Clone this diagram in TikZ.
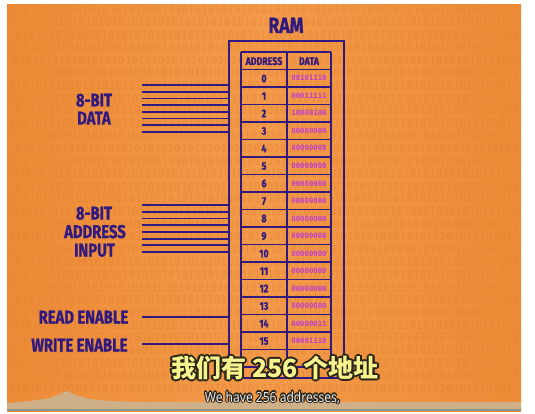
\documentclass[tikz,border=0pt]{standalone}
\usepackage{fontspec}
\newfontfamily\lbl[FakeStretch=0.8,BoldFeatures={FakeBold=1}]{Fira Sans}
\newfontfamily\monof{DejaVu Sans Mono}
\newfontfamily\cjk{Noto Sans CJK SC}
\newfontfamily\subf[FakeStretch=0.86]{Noto Sans}
\definecolor{ink}{RGB}{48,26,128}
\definecolor{mag}{RGB}{190,60,210}
\definecolor{orM}{RGB}{243,155,74}
\definecolor{orE}{RGB}{237,138,54}
\definecolor{patc}{RGB}{226,130,50}
\definecolor{beige}{RGB}{206,176,136}
\definecolor{strip}{RGB}{138,148,136}
\definecolor{subY}{RGB}{246,242,140}
\definecolor{subD}{RGB}{40,36,24}
\definecolor{subW}{RGB}{236,236,236}
\tikzset{
  lab/.style={font=\lbl\bfseries\fontsize{18.5}{18.5}\selectfont, text=ink, anchor=base, inner sep=0},
  ttl/.style={font=\lbl\bfseries\fontsize{22}{22}\selectfont, text=ink, anchor=base, inner sep=0},
  wire/.style={draw=ink, line width=1.8},
  tab/.style={draw=ink, line width=1.8},
  hdr/.style={font=\lbl\bfseries\fontsize{11}{11}\selectfont, text=ink, anchor=base, inner sep=0},
  dat/.style={font=\monof\bfseries\fontsize{7.3}{7.3}\selectfont, text=mag, anchor=base, inner sep=0},
  pat/.style={font=\monof\fontsize{11}{11}\selectfont, text=patc, anchor=base west, inner sep=0, opacity=0.55},
  cjks/.style={font=\cjk\bfseries\fontsize{25}{25}\selectfont, anchor=base, inner sep=0},
  ens/.style={font=\subf\fontsize{14}{14}\selectfont, anchor=base, inner sep=0}
}
\begin{document}
\begin{tikzpicture}[x=1pt,y=-1pt]
\useasboundingbox (0,0) rectangle (535,414);
\fill[white] (0,0) rectangle (535,414);
\shade[left color=orE, right color=orE, middle color=orM] (7,5) rectangle (521,411);
% faint binary texture
\foreach \r in {0,...,30} {
  \pgfmathsetmacro\xo{9+mod(\r,3)*3}
  \node[pat] (p\r) at (\xo, 14+12.6*\r) {0101010101010101010101010101010101010101010101010101010101010101010101010101};
}
% bottom strip
\fill[beige] (7,403) -- (30,401) -- (50,398) -- (62,393) -- (67,391) -- (75,395) -- (90,399) -- (110,401) -- (140,402) -- (521,402) -- (521,409) -- (7,409) -- cycle;
\fill[strip] (7,409) rectangle (521,411);
% RAM box
\node[ttl] (title) at (286,33) {RAM};
\node[draw=ink, line width=1.8, minimum width=115, minimum height=337, inner sep=0] (ram) at (286.5,209.5) {};
% table
\begin{scope}
\clip (230,42) rectangle (343,377);
\draw[tab] (241,52) -- (331,52);
\draw[tab] (241,52) -- (241,390);
\draw[tab] (331,52) -- (331,390);
\draw[tab] (287,52) -- (287,390);
\foreach \k in {0,...,17} {
  \draw[tab] (241,69.5+17.5*\k) -- (331,69.5+17.5*\k);
}
\end{scope}
\node[hdr] (hA) at (264,65) {ADDRESS};
\node[hdr] (hD) at (309,65) {DATA};
\foreach \k/\v in {0/00101110,1/00011111,2/10000100,3/00000000,4/00000000,5/00000000,6/00000000,7/00000000,8/00000000,9/00000000,10/00000000,11/00000000,12/00000000,13/00000000,14/00000011,15/00001110} {
  \node[hdr] (a\k) at (264,82.25+17.5*\k) {\k};
  \node[dat] (v\k) at (309,81+17.5*\k) {\v};
}
% wires
\foreach \i in {0,...,7} {
  \coordinate (d\i) at (142,85+6.72*\i);
  \draw[wire] (d\i) -- (d\i -| ram.west);
  \coordinate (ad\i) at (142,205+6.72*\i);
  \draw[wire] (ad\i) -- (ad\i -| ram.west);
}
\coordinate (re) at (142,317);
\coordinate (we) at (142,344);
\draw[wire] (re) -- (re -| ram.west);
\draw[wire] (we) -- (we -| ram.west);
% labels
\node[lab] (l1) at (94,106.5) {8-BIT};
\node[lab] (l2) at (94,124.5) {DATA};
\node[lab] (l3) at (94,219.5) {8-BIT};
\node[lab] (l4) at (95,238) {ADDRESS};
\node[lab] (l5) at (94.5,256.5) {INPUT};
\node[lab] (l6) at (83.5,323.5) {READ ENABLE};
\node[lab] (l7) at (79.5,351.5) {WRITE ENABLE};
% subtitles
\foreach \a in {0,30,...,330} {
  \node[cjks, text=subD, shift={(\a:1.7)}] (co\a) at (275,377.5) {我们有 256 个地址};
  \node[ens, text=subD, shift={(\a:1.1)}] (eo\a) at (272.5,402) {We have 256 addresses,};
}
\node[cjks, text=subY] (cjk) at (275,377.5) {我们有 256 个地址};
\node[ens, text=subW] (eng) at (272.5,402) {We have 256 addresses,};
\end{tikzpicture}
\end{document}
